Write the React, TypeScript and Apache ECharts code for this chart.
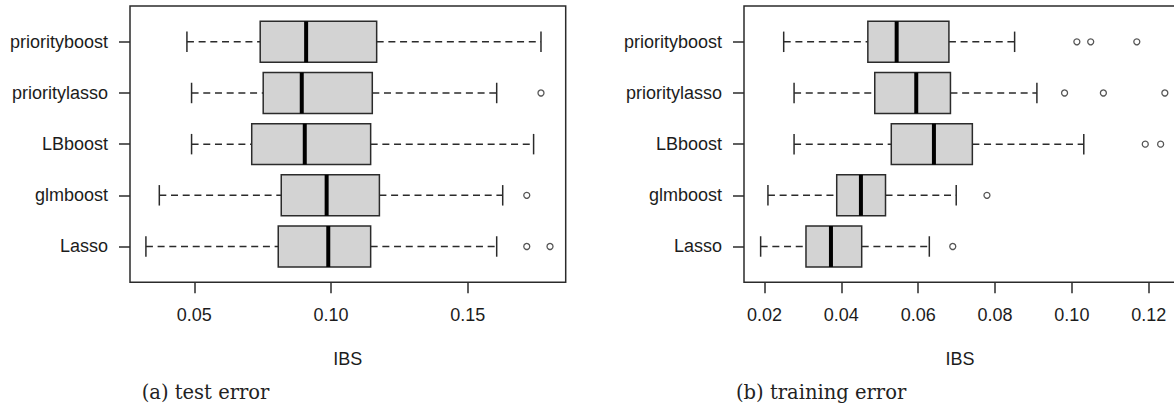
import React, { useEffect, useRef } from "react";
import * as echarts from "echarts";

// Methods, bottom row first (row index 1..5 on the y axis)
const categories = ["Lasso", "glmboost", "LBboost", "prioritylasso", "priorityboost"];

// Five-number summaries: [lower whisker, Q1, median, Q3, upper whisker]
const testLasso = [0.0323, 0.0807, 0.099, 0.1145, 0.1606];
const testGlmboost = [0.0372, 0.0818, 0.0984, 0.1177, 0.1628];
const testLBboost = [0.049, 0.071, 0.0904, 0.1145, 0.1741];
const testPrioritylasso = [0.049, 0.0752, 0.0893, 0.1151, 0.1606];
const testPriorityboost = [0.0473, 0.0741, 0.0909, 0.1167, 0.1768];

const trainLasso = [0.019, 0.0308, 0.0373, 0.0453, 0.0629];
const trainGlmboost = [0.0209, 0.0388, 0.0451, 0.0515, 0.0699];
const trainLBboost = [0.0277, 0.053, 0.0641, 0.0741, 0.1031];
const trainPrioritylasso = [0.0277, 0.0487, 0.0595, 0.0684, 0.0909];
const trainPriorityboost = [0.025, 0.0469, 0.0544, 0.068, 0.0851];

// Outliers per method, same order as categories
const testOutliers = [[0.1716, 0.1801], [0.1716], [], [0.1768], []];
const trainOutliers = [[0.069], [0.0779], [0.1191, 0.1231], [0.0981, 0.1082, 0.1242], [0.1013, 0.1049, 0.1169]];

// Axis ticks
const testTicks = [0.05, 0.1, 0.15];
const trainTicks = [0.02, 0.04, 0.06, 0.08, 0.1, 0.12];
const rowTicks = [1, 2, 3, 4, 5];

const testStats = [testLasso, testGlmboost, testLBboost, testPrioritylasso, testPriorityboost];
const trainStats = [trainLasso, trainGlmboost, trainLBboost, trainPrioritylasso, trainPriorityboost];

const INK = "#2b2b2b";
const TEXT = "#1c1c1c";
const FONT = "Liberation Sans, Arial, sans-serif";

function boxData(stats: number[][]) {
  return stats.map((s, i) => [i + 1, ...s]);
}

function outlierData(outs: number[][]) {
  const pts: number[][] = [];
  outs.forEach((list, i) => list.forEach((v) => pts.push([v, i + 1])));
  return pts;
}

function renderBox(_params: any, api: any) {
  const row = api.value(0);
  const lo = api.value(1);
  const q1 = api.value(2);
  const med = api.value(3);
  const q3 = api.value(4);
  const hi = api.value(5);
  const c = (x: number, y: number) => api.coord([x, y]);
  const yc = c(q1, row)[1];
  const boxTop = c(q1, row + 0.4)[1];
  const boxBot = c(q1, row - 0.4)[1];
  const capTop = c(q1, row + 0.2)[1];
  const capBot = c(q1, row - 0.2)[1];
  const xLo = c(lo, row)[0];
  const xQ1 = c(q1, row)[0];
  const xMed = c(med, row)[0];
  const xQ3 = c(q3, row)[0];
  const xHi = c(hi, row)[0];
  const dash = { stroke: INK, lineWidth: 1.5, lineDash: [7, 4.7] };
  const solid = { stroke: INK, lineWidth: 1.5 };
  return {
    type: "group",
    children: [
      { type: "line", shape: { x1: xLo, y1: yc, x2: xQ1, y2: yc }, style: dash },
      { type: "line", shape: { x1: xQ3, y1: yc, x2: xHi, y2: yc }, style: dash },
      { type: "line", shape: { x1: xLo, y1: capTop, x2: xLo, y2: capBot }, style: solid },
      { type: "line", shape: { x1: xHi, y1: capTop, x2: xHi, y2: capBot }, style: solid },
      {
        type: "rect",
        shape: { x: xQ1, y: boxTop, width: xQ3 - xQ1, height: boxBot - boxTop },
        style: { fill: "#d3d3d3", stroke: INK, lineWidth: 1.5 },
      },
      {
        type: "line",
        shape: { x1: xMed, y1: boxTop, x2: xMed, y2: boxBot },
        style: { stroke: "#000", lineWidth: 4 },
      },
    ],
  };
}

function xAxisFor(gridIndex: number, min: number, max: number, ticks: number[]) {
  return {
    type: "value",
    gridIndex,
    min,
    max,
    name: "IBS",
    nameLocation: "middle",
    nameGap: 68,
    nameTextStyle: { fontFamily: FONT, fontSize: 18, color: TEXT },
    axisLine: { show: false },
    splitLine: { show: false },
    axisTick: { show: true, customValues: ticks, length: 11, lineStyle: { color: INK, width: 1.5 } },
    axisLabel: {
      customValues: ticks,
      formatter: (v: number) => v.toFixed(2),
      margin: 24,
      fontFamily: FONT,
      fontSize: 18,
      color: TEXT,
    },
  };
}

function yAxisFor(gridIndex: number) {
  return {
    type: "value",
    gridIndex,
    min: 0.3,
    max: 5.7,
    axisLine: { show: false },
    splitLine: { show: false },
    axisTick: { show: true, customValues: rowTicks, length: 11, lineStyle: { color: INK, width: 1.5 } },
    axisLabel: {
      customValues: rowTicks,
      formatter: (v: number) => categories[Math.round(v) - 1] ?? "",
      margin: 22,
      fontFamily: FONT,
      fontSize: 18,
      color: TEXT,
    },
  };
}

export default function App() {
  const ref = useRef<HTMLDivElement>(null);

  useEffect(() => {
    if (!ref.current) return;
    const chart = echarts.init(ref.current, null, { renderer: "svg" });
    const gridStyle = { show: true, borderColor: INK, borderWidth: 1.5, backgroundColor: "transparent" };
    chart.setOption({
      animation: false,
      backgroundColor: "#fff",
      grid: [
        { ...gridStyle, left: 130, top: 6, width: 435.7, height: 276.3 },
        { ...gridStyle, left: 744, top: 6, width: 432, height: 276.3 },
      ],
      xAxis: [xAxisFor(0, 0.02648, 0.18584, testTicks), xAxisFor(1, 0.01467, 0.1271, trainTicks)],
      yAxis: [yAxisFor(0), yAxisFor(1)],
      series: [
        {
          type: "custom",
          xAxisIndex: 0,
          yAxisIndex: 0,
          data: boxData(testStats),
          encode: { x: [1, 2, 3, 4, 5], y: 0 },
          renderItem: renderBox,
        },
        {
          type: "custom",
          xAxisIndex: 1,
          yAxisIndex: 1,
          data: boxData(trainStats),
          encode: { x: [1, 2, 3, 4, 5], y: 0 },
          renderItem: renderBox,
        },
        {
          type: "scatter",
          xAxisIndex: 0,
          yAxisIndex: 0,
          data: outlierData(testOutliers),
          symbol: "circle",
          symbolSize: 6,
          itemStyle: { color: "#fff", borderColor: INK, borderWidth: 1.3 },
        },
        {
          type: "scatter",
          xAxisIndex: 1,
          yAxisIndex: 1,
          data: outlierData(trainOutliers),
          symbol: "circle",
          symbolSize: 6,
          itemStyle: { color: "#fff", borderColor: INK, borderWidth: 1.3 },
        },
      ],
      graphic: [
        {
          type: "text",
          x: 141.7,
          y: 392,
          style: { text: "(a) test error", font: '19.5px "DejaVu Serif"', fill: "#222", verticalAlign: "middle" },
        },
        {
          type: "text",
          x: 736,
          y: 392,
          style: { text: "(b) training error", font: '19.5px "DejaVu Serif"', fill: "#222", verticalAlign: "middle" },
        },
      ],
    });
    return () => chart.dispose();
  }, []);

  return (
    <div
      style={{
        position: "fixed",
        left: 0,
        top: 0,
        width: 1174,
        height: 407,
        overflow: "hidden",
        background: "#fff",
      }}
    >
      <div ref={ref} style={{ width: 1184, height: 407 }} />
    </div>
  );
}
